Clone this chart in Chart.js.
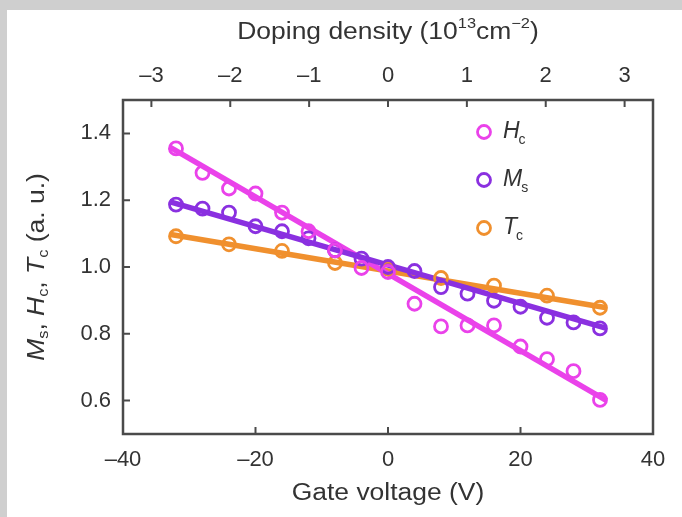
<!DOCTYPE html>
<html>
<head>
<meta charset="utf-8">
<script src="https://cdn.jsdelivr.net/npm/chart.js@4.4.1/dist/chart.umd.min.js"></script>
<style>
  html, body { margin: 0; padding: 0; background: #fff; }
  #wrap { width: 682px; height: 517px; }
</style>
</head>
<body>
<div id="wrap"><canvas id="grafico" width="682" height="517"></canvas></div>
<script>
// Dati
const gateV = [-32, -28, -24, -20, -16, -12, -8, -4, 0, 4, 8, 12, 16, 20, 24, 28, 32];
const valoriHc = [1.355, 1.282, 1.235, 1.22, 1.163, 1.107, 1.05, 0.997, 0.985, 0.89, 0.822, 0.825, 0.825, 0.762, 0.724, 0.688, 0.602];
const valoriMs = [1.187, 1.175, 1.163, 1.122, 1.107, 1.086, 1.05, 1.025, 1.0, 0.988, 0.94, 0.92, 0.899, 0.881, 0.848, 0.834, 0.816];
const gateVTc = [-32, -24, -16, -8, 0, 8, 16, 24, 32];
const valoriTc = [1.092, 1.068, 1.048, 1.012, 0.995, 0.967, 0.944, 0.914, 0.878];

// Rette di fit (estremi)
const fitX = [-33, 33];
const fitHc = [1.36, 0.60];
const fitMs = [1.196, 0.816];
const fitTc = [1.098, 0.878];

// Tick degli assi
const tickGate = [-40, -20, 0, 20, 40];
const tickDoping = [-3, -2, -1, 0, 1, 2, 3];
const tickY = [0.6, 0.8, 1.0, 1.2, 1.4];
const dopingMin = -3.36;
const dopingMax = 3.36;

const colHc = "#ea42ea";
const colMs = "#8a30e0";
const colTc = "#f0902e";
const coloreTesto = "#333";
const famiglia = "'Liberation Sans', Arial, sans-serif";

function punti(xs, ys) {
  return xs.map((x, i) => ({ x: x, y: ys[i] }));
}

function meno(v) {
  return v < 0 ? "\u2013" + Math.abs(v) : String(v);
}

// testo con pedici/apici, centrato e allargato in orizzontale
function testoRicco(ctx, parti, x, y, size, allarga) {
  let larg = 0;
  parti.forEach((p) => {
    const s = p.sub || p.sup ? size * 0.62 : size;
    ctx.font = (p.it ? "italic " : "") + s + "px " + famiglia;
    p.w = ctx.measureText(p.t).width;
    larg += p.w;
  });
  ctx.save();
  ctx.translate(x, y);
  ctx.scale(allarga, 1);
  let cx = -larg / 2;
  parti.forEach((p) => {
    const s = p.sub || p.sup ? size * 0.62 : size;
    ctx.font = (p.it ? "italic " : "") + s + "px " + famiglia;
    let dy = 0;
    if (p.sub) dy = size * 0.28;
    if (p.sup) dy = -size * 0.38;
    ctx.fillText(p.t, cx, dy);
    cx += p.w;
  });
  ctx.restore();
}

const pluginCornice = {
  id: "cornice",
  beforeDraw(chart) {
    const ctx = chart.ctx;
    ctx.save();
    ctx.fillStyle = "#fff";
    ctx.fillRect(0, 0, chart.width, chart.height);
    ctx.fillStyle = "#cfcfcf";
    ctx.fillRect(0, 0, chart.width, 10);
    ctx.fillRect(0, 0, 7, chart.height);
    ctx.restore();
  },
  beforeDatasetsDraw(chart) {
    const ctx = chart.ctx;
    const a = chart.chartArea;
    const sx = chart.scales.x, sx2 = chart.scales.x2, sy = chart.scales.y;
    ctx.save();
    ctx.strokeStyle = "#4a4a4a";
    ctx.lineWidth = 2.5;
    ctx.strokeRect(a.left, a.top, a.right - a.left, a.bottom - a.top);
    ctx.lineWidth = 2;
    ctx.beginPath();
    tickGate.forEach((v) => {
      const px = sx.getPixelForValue(v);
      ctx.moveTo(px, a.bottom);
      ctx.lineTo(px, a.bottom - 7);
    });
    tickDoping.forEach((v) => {
      const px = sx2.getPixelForValue(v);
      ctx.moveTo(px, a.top);
      ctx.lineTo(px, a.top + 7);
    });
    tickY.forEach((v) => {
      const py = sy.getPixelForValue(v);
      ctx.moveTo(a.left, py);
      ctx.lineTo(a.left + 7, py);
    });
    ctx.stroke();
    ctx.restore();
  },
  afterDraw(chart) {
    const ctx = chart.ctx;
    const a = chart.chartArea;
    ctx.save();
    ctx.fillStyle = coloreTesto;
    ctx.textBaseline = "middle";
    ctx.textAlign = "left";

    // titolo superiore
    testoRicco(ctx, [
      { t: "Doping density (10" }, { t: "13", sup: true }, { t: "cm" }, { t: "\u22122", sup: true }, { t: ")" }
    ], (a.left + a.right) / 2, 33, 23, 1.15);

    // titolo inferiore
    testoRicco(ctx, [{ t: "Gate voltage (V)" }], (a.left + a.right) / 2, 494, 23, 1.15);

    // titolo asse y
    ctx.save();
    ctx.translate(38, (a.top + a.bottom) / 2);
    ctx.rotate(-Math.PI / 2);
    testoRicco(ctx, [
      { t: "M", it: true }, { t: "s", sub: true }, { t: ", " },
      { t: "H", it: true }, { t: "c", sub: true }, { t: ", " },
      { t: "T", it: true }, { t: "c", sub: true }, { t: " (a. u.)" }
    ], 0, 0, 23, 1.15);
    ctx.restore();

    // legenda
    const voci = [
      { n: "H", c: colHc, y: 132 },
      { n: "M", c: colMs, y: 180 },
      { n: "T", c: colTc, y: 228 }
    ];
    const pedici = ["c", "s", "c"];
    voci.forEach((v, i) => {
      ctx.strokeStyle = v.c;
      ctx.lineWidth = 2.8;
      ctx.beginPath();
      ctx.arc(484, v.y, 6.5, 0, Math.PI * 2);
      ctx.stroke();
      ctx.fillStyle = coloreTesto;
      ctx.font = "italic 23px " + famiglia;
      ctx.fillText(v.n, 503, v.y);
      const w = ctx.measureText(v.n).width;
      ctx.font = "14px " + famiglia;
      ctx.fillText(pedici[i], 503 + w - 1, v.y + 8);
    });
    ctx.restore();
  }
};

const fontTick = { family: famiglia, size: 22 };

const ctx = document.getElementById("grafico").getContext("2d");
new Chart(ctx, {
  type: "scatter",
  data: {
    datasets: [
      { data: punti(fitX, fitHc), showLine: true, borderColor: colHc, borderWidth: 5.5, pointRadius: 0, order: 5 },
      { data: punti(fitX, fitMs), showLine: true, borderColor: colMs, borderWidth: 5.5, pointRadius: 0, order: 4 },
      { data: punti(fitX, fitTc), showLine: true, borderColor: colTc, borderWidth: 5.5, pointRadius: 0, order: 6 },
      { data: punti(gateVTc, valoriTc), borderColor: colTc, backgroundColor: "transparent", pointRadius: 6.5, borderWidth: 2.8, order: 3 },
      { data: punti(gateV, valoriMs), borderColor: colMs, backgroundColor: "transparent", pointRadius: 6.5, borderWidth: 2.8, order: 2 },
      { data: punti(gateV, valoriHc), borderColor: colHc, backgroundColor: "transparent", pointRadius: 6.5, borderWidth: 2.8, order: 1 }
    ]
  },
  options: {
    responsive: false,
    animation: false,
    devicePixelRatio: 1,
    layout: { padding: { left: 0, right: 29, top: 0, bottom: 0 } },
    plugins: { legend: { display: false }, tooltip: { enabled: false } },
    scales: {
      x: {
        type: "linear", position: "bottom", min: -40, max: 40,
        afterBuildTicks: (s) => { s.ticks = tickGate.map((v) => ({ value: v })); },
        afterFit: (s) => { s.height = 83; },
        grid: { display: false, drawTicks: false },
        border: { display: false },
        ticks: { font: fontTick, color: coloreTesto, padding: 13, maxRotation: 0, callback: (v) => meno(v) }
      },
      x2: {
        type: "linear", position: "top", min: dopingMin, max: dopingMax,
        afterBuildTicks: (s) => { s.ticks = tickDoping.map((v) => ({ value: v })); },
        afterFit: (s) => { s.height = 100; },
        grid: { display: false, drawTicks: false },
        border: { display: false },
        ticks: { font: fontTick, color: coloreTesto, padding: 11, maxRotation: 0, callback: (v) => meno(v) }
      },
      y: {
        type: "linear", position: "left", min: 0.5, max: 1.5,
        afterBuildTicks: (s) => { s.ticks = tickY.map((v) => ({ value: v })); },
        afterFit: (s) => { s.width = 123; },
        grid: { display: false, drawTicks: false },
        border: { display: false },
        ticks: { font: fontTick, color: coloreTesto, padding: 12, callback: (v) => v.toFixed(1) }
      }
    }
  },
  plugins: [pluginCornice]
});
</script>
</body>
</html>
